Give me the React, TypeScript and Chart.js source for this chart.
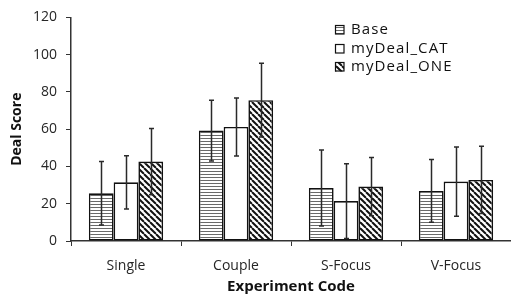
import React, { useEffect, useRef } from "react";
import { Chart, registerables } from "chart.js";

Chart.register(...registerables);

const categories = ["Single", "Couple", "S-Focus", "V-Focus"];
const seriesNames = ["Base", "myDeal_CAT", "myDeal_ONE"];
const baseValues = [25.6, 59.3, 28.5, 26.9];
const catValues = [31.5, 61.2, 21.4, 31.9];
const oneValues = [42.6, 75.6, 29.2, 32.8];
const baseErr = [17.0, 16.3, 20.4, 16.8];
const catErr = [14.3, 15.6, 20.0, 18.6];
const oneErr = [17.8, 19.8, 15.6, 18.0];
const yTicks = [0, 20, 40, 60, 80, 100, 120];

const FONT = "'Open Sans', 'Liberation Sans', sans-serif";

function makeHPattern(): CanvasPattern | string {
  const c = document.createElement("canvas");
  c.width = 6;
  c.height = 3;
  const g = c.getContext("2d");
  if (!g) return "#999";
  g.fillStyle = "#ffffff";
  g.fillRect(0, 0, 6, 3);
  g.fillStyle = "#6a6a6a";
  g.fillRect(0, 0, 6, 1);
  return g.createPattern(c, "repeat") || "#999";
}

function makeDPattern(): CanvasPattern | string {
  const s = 6;
  const c = document.createElement("canvas");
  c.width = s;
  c.height = s;
  const g = c.getContext("2d");
  if (!g) return "#333";
  g.fillStyle = "#ffffff";
  g.fillRect(0, 0, s, s);
  g.strokeStyle = "#111";
  g.lineWidth = 2;
  for (const off of [-s, 0, s]) {
    g.beginPath();
    g.moveTo(off, 0);
    g.lineTo(off + s, s);
    g.stroke();
  }
  return g.createPattern(c, "repeat") || "#333";
}

export default function App() {
  const ref = useRef<HTMLCanvasElement | null>(null);
  useEffect(() => {
    if (!ref.current) return;
    const fills = [makeHPattern(), "#ffffff", makeDPattern()];
    const errors = [baseErr, catErr, oneErr];

    const errorBars = {
      id: "errorBars",
      afterDatasetsDraw(chart: any) {
        const ctx = chart.ctx;
        const y = chart.scales.y;
        ctx.save();
        ctx.strokeStyle = "#2a2a2a";
        ctx.lineWidth = 1.5;
        chart.data.datasets.forEach((ds: any, i: number) => {
          const meta = chart.getDatasetMeta(i);
          meta.data.forEach((bar: any, j: number) => {
            const v = ds.data[j];
            const e = errors[i][j];
            const x = Math.round(bar.x) + 0.5;
            const t = y.getPixelForValue(v + e);
            const b = y.getPixelForValue(v - e);
            ctx.beginPath();
            ctx.moveTo(x, t);
            ctx.lineTo(x, b);
            ctx.moveTo(x - 2.5, t);
            ctx.lineTo(x + 2.5, t);
            ctx.moveTo(x - 2.5, b);
            ctx.lineTo(x + 2.5, b);
            ctx.stroke();
          });
        });
        ctx.restore();
      },
    };

    const legendPlugin = {
      id: "customLegend",
      afterDraw(chart: any) {
        const ctx = chart.ctx;
        const area = chart.chartArea;
        const x0 = area.left + 264;
        const y0 = area.top + 12.5;
        ctx.save();
        ctx.font = `15px ${FONT}`;
        try {
          (ctx as any).letterSpacing = "1.1px";
        } catch (e) {}
        ctx.textBaseline = "middle";
        ctx.textAlign = "left";
        seriesNames.forEach((name, i) => {
          const cy = Math.round(y0 + i * 18.7);
          ctx.fillStyle = fills[i] as any;
          ctx.fillRect(x0, cy - 4.5, 9, 9);
          ctx.strokeStyle = "#111";
          ctx.lineWidth = 1.2;
          ctx.strokeRect(x0 + 0.5, cy - 4.5, 8.5, 8.5);
          ctx.fillStyle = "#111";
          ctx.fillText(name, x0 + 16, cy);
        });
        ctx.restore();
      },
    };

    const mk = (i: number, data: number[]) => ({
      label: seriesNames[i],
      data,
      backgroundColor: fills[i] as any,
      borderColor: "#111",
      borderWidth: 1.6,
      borderSkipped: false as any,
      categoryPercentage: 0.675,
      barPercentage: 1.0,
    });

    const chart = new Chart(ref.current, {
      type: "bar",
      data: {
        labels: categories,
        datasets: [mk(0, baseValues), mk(1, catValues), mk(2, oneValues)],
      },
      options: {
        animation: false,
        responsive: false,
        maintainAspectRatio: false,
        layout: { padding: { top: 15, right: 0, left: 0, bottom: 0 } },
        plugins: {
          legend: { display: false },
          tooltip: { enabled: false },
        },
        scales: {
          x: {
            grid: {
              offset: true,
              drawOnChartArea: false,
              drawTicks: true,
              tickLength: 5,
              color: "#333",
              lineWidth: 1,
            },
            border: { display: true, color: "#333", width: 1.5 },
            ticks: {
              font: { family: FONT, size: 14 },
              color: "#262626",
              padding: 12,
            },
            title: {
              display: true,
              text: "Experiment Code",
              font: { family: FONT, size: 15, weight: "bold" },
              color: "#111",
              padding: { top: 0, bottom: 0 },
            },
            afterFit: (s: any) => {
              s.height = 55;
            },
          },
          y: {
            min: 0,
            max: 120,
            afterBuildTicks: (s: any) => {
              s.ticks = yTicks.map((v) => ({ value: v }));
            },
            grid: {
              drawOnChartArea: false,
              drawTicks: true,
              tickLength: 5,
              color: "#333",
              lineWidth: 1,
            },
            border: { display: true, color: "#333", width: 1.5 },
            ticks: {
              font: { family: FONT, size: 14 },
              color: "#262626",
              padding: 9,
            },
            title: {
              display: true,
              text: "Deal Score",
              font: { family: FONT, size: 14, weight: "bold" },
              color: "#111",
              padding: { top: 9, bottom: 0 },
            },
            afterFit: (s: any) => {
              s.width = 71;
            },
          },
        },
      },
      plugins: [errorBars, legendPlugin],
    });
    return () => chart.destroy();
  }, []);

  return (
    <div style={{ position: "absolute", left: 0, top: 0, width: 511, height: 296, background: "#fff" }}>
      <canvas ref={ref} width={511} height={296} style={{ width: 511, height: 296 }} />
    </div>
  );
}
